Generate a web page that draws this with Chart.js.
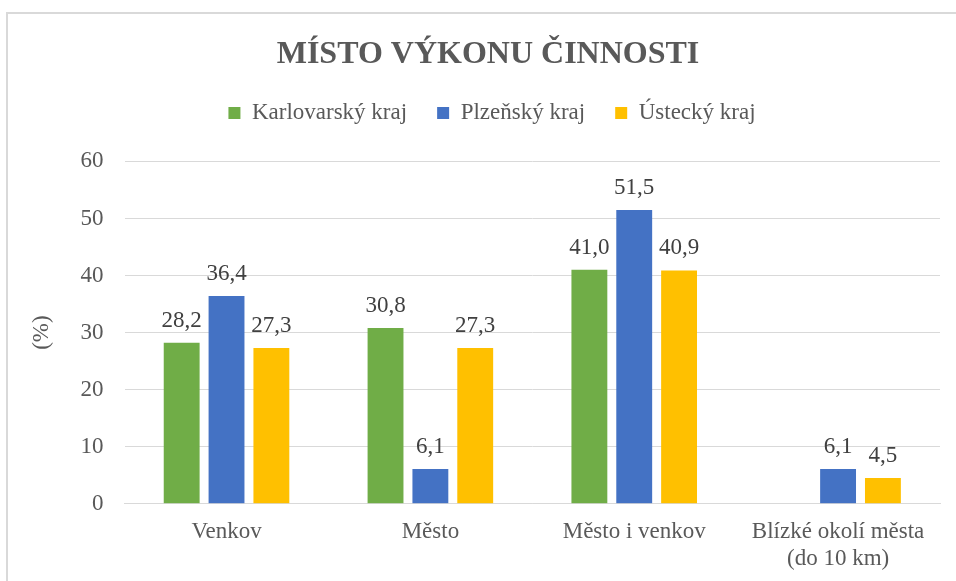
<!DOCTYPE html>
<html>
<head>
<meta charset="utf-8">
<script src="https://cdn.jsdelivr.net/npm/chart.js@4/dist/chart.umd.min.js"></script>
<style>
  body { margin: 0; background: #fff; }
  #frame {
    position: absolute; left: 6px; top: 12px;
    width: 980px; height: 600px;
    border: 2px solid #d9d9d9; box-sizing: border-box;
  }
  #chart { position: absolute; left: 0; top: 0; }
</style>
</head>
<body>
<div id="frame"></div>
<canvas id="chart" width="956" height="581"></canvas>
<script>
// data
const categories = ['Venkov', 'Město', 'Město i venkov', ['Blízké okolí města', '(do 10 km)']];
const seriesNames = ['Karlovarský kraj', 'Plzeňský kraj', 'Ústecký kraj'];
const karlovarsky = [28.2, 30.8, 41.0, null];
const plzensky = [36.4, 6.1, 51.5, 6.1];
const ustecky = [27.3, 27.3, 40.9, 4.5];
const seriesColors = ['#70AD47', '#4472C4', '#FFC000'];

const serif = '"Liberation Serif", "Times New Roman", serif';

// mezera pod legendou + posun titulku a legendy
const headerTweak = {
    id: 'headerTweak',
    beforeInit(chart) {
        const fit = chart.legend.fit;
        chart.legend.fit = function () {
            fit.bind(chart.legend)();
            this.height += 24;
        };
    },
    afterLayout(chart) {
        chart.titleBlock.left += 10;
        chart.titleBlock.right += 10;
        chart.legend.left += 14;
        chart.legend.right += 14;
        chart.legend.top -= 3;
        chart.legend.bottom -= 3;
    }
};

// popisky hodnot nad sloupci
const valueLabels = {
    id: 'valueLabels',
    afterDatasetsDraw(chart) {
        const ctx = chart.ctx;
        ctx.save();
        ctx.font = '23px ' + serif;
        ctx.fillStyle = '#404040';
        ctx.textAlign = 'center';
        ctx.textBaseline = 'alphabetic';
        chart.data.datasets.forEach((ds, i) => {
            const meta = chart.getDatasetMeta(i);
            meta.data.forEach((bar, j) => {
                const v = ds.data[j];
                if (v === null || v === undefined) return;
                ctx.fillText(v.toFixed(1).replace('.', ','), bar.x, bar.y - 16);
            });
        });
        ctx.restore();
    }
};

const seriesData = [karlovarsky, plzensky, ustecky];

function drawChart() {
    new Chart(document.getElementById('chart').getContext('2d'), {
        type: 'bar',
        data: {
            labels: categories,
            datasets: seriesNames.map((name, i) => ({
                label: name,
                data: seriesData[i],
                backgroundColor: seriesColors[i],
                borderWidth: 0,
                categoryPercentage: 0.66,
                barPercentage: 0.8
            }))
        },
        options: {
            responsive: false,
            animation: false,
            layout: { padding: { left: 16, right: 16, top: 0, bottom: -6 } },
            plugins: {
                tooltip: { enabled: false },
                title: {
                    display: true,
                    text: 'MÍSTO VÝKONU ČINNOSTI',
                    color: '#595959',
                    font: { family: serif, size: 32, weight: 'bold' },
                    padding: { top: 36, bottom: 0 }
                },
                legend: {
                    position: 'top',
                    labels: {
                        boxWidth: 12,
                        boxHeight: 12,
                        padding: 30,
                        color: '#595959',
                        font: { family: serif, size: 23 }
                    }
                }
            },
            scales: {
                x: {
                    grid: { display: false, drawTicks: false },
                    border: { display: true, color: '#d9d9d9', width: 1 },
                    ticks: {
                        color: '#595959',
                        font: { family: serif, size: 23 },
                        padding: 14,
                        maxRotation: 0
                    }
                },
                y: {
                    min: 0,
                    max: 60,
                    grid: { color: '#d9d9d9', drawTicks: false },
                    border: { display: false },
                    ticks: {
                        stepSize: 10,
                        color: '#595959',
                        font: { family: serif, size: 23 },
                        padding: 21
                    },
                    title: {
                        display: true,
                        text: '(%)',
                        color: '#595959',
                        font: { family: serif, size: 23 },
                        padding: { top: 12, bottom: 4 }
                    }
                }
            }
        },
        plugins: [headerTweak, valueLabels]
    });
}

Promise.all([
    document.fonts.load('23px "Liberation Serif"'),
    document.fonts.load('bold 32px "Liberation Serif"')
]).then(drawChart, drawChart);
</script>
</body>
</html>
